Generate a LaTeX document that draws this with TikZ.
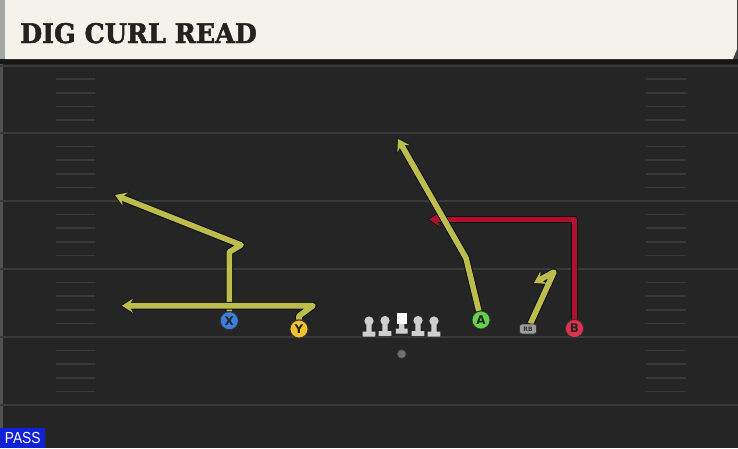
\documentclass[tikz,border=0pt]{standalone}
\usepackage{fontspec}
\setmainfont{DejaVu Sans}
\newfontfamily\titlefont{DejaVu Serif}[BoldFeatures={FakeStretch=0.94,FakeBold=1.8}]
\newfontfamily\passfont{Liberation Sans}[FakeStretch=0.86]
\usetikzlibrary{arrows.meta}
\definecolor{fieldbg}{HTML}{252525}
\definecolor{bandc}{HTML}{161616}
\definecolor{linec}{HTML}{393939}
\definecolor{creamc}{HTML}{F5F2EA}
\definecolor{stripc}{HTML}{A4A7A4}
\definecolor{titlec}{HTML}{222222}
\definecolor{routey}{HTML}{BDBD4E}
\definecolor{router}{HTML}{B0102E}
\definecolor{outc}{HTML}{111111}
\definecolor{passblue}{HTML}{0F22D8}
\definecolor{xblue}{HTML}{3D7FDC}
\definecolor{yyellow}{HTML}{F2C12E}
\definecolor{agreen}{HTML}{66D04A}
\definecolor{bred}{HTML}{E0324A}
\definecolor{rbgray}{HTML}{9C9C9C}
\definecolor{lmgray}{HTML}{CFCFCF}
\definecolor{qbgray}{HTML}{707070}
\pgfdeclarelayer{field}
\pgfdeclarelayer{routes}
\pgfsetlayers{field,routes,main}
\tikzset{
  yardline/.style={draw=linec, line width=2pt},
  hashmark/.style={draw=linec, line width=1.6pt},
  player/.style={circle, draw=black!80, line width=0.8pt, minimum size=18pt, inner sep=0pt,
    font=\bfseries\fontsize{12}{12}\selectfont, text=black!85},
  route/.style={draw=#1, line width=5.6pt, line join=round,
    -{Stealth[length=11pt,width=14pt,inset=4pt,fill=#1]},
    preaction={draw=outc, line width=7.6pt, line join=round,
      -{Stealth[length=13pt,width=17pt,inset=4.7pt]}, shorten >=-1.2pt}},
  lineman/.pic={
    \path[draw=black!85, line width=1.6pt] (-6.3,0) rectangle (6.3,-5) (-2.7,-4) rectangle (2.7,-13) (0,-15.5) circle (4.6);
    \path[fill=lmgray] (-6.3,0) rectangle (6.3,-5) (-2.7,-4) rectangle (2.7,-13) (0,-15.5) circle (4.6);
  },
  centerman/.pic={
    \path[draw=black!85, line width=1.6pt] (-5.8,0) rectangle (5.8,-5) (-2.7,-4) rectangle (2.7,-11) (-4.8,-10) rectangle (4.8,-20.5);
    \path[fill=lmgray] (-5.8,0) rectangle (5.8,-5) (-2.7,-4) rectangle (2.7,-11);
    \path[fill=white] (-4.8,-10) rectangle (4.8,-20.5);
  }
}
\begin{document}
\begin{tikzpicture}[x=1pt,y=-1pt]
\useasboundingbox (0,0) rectangle (738,448);
\begin{pgfonlayer}{field}
  \fill[fieldbg] (0,0) rectangle (738,448);
  \fill[bandc] (0,58) rectangle (738,64);
  \fill[black!75] (733,59) -- (737,49) -- (738,49) -- (738,59) -- cycle;
  \fill[creamc] (5,0) -- (737,0) -- (737,49) -- (733,59) -- (5,59) -- cycle;
  \fill[stripc] (0,0) rectangle (5,59);
  \fill[fieldbg!80!white] (0,64) rectangle (2.5,448);
  \foreach \yy in {65.5,133,201,269,337,405} {
    \draw[yardline] (0,\yy) -- (738,\yy);
  }
  \foreach \yy in {65.5,133,201,269,337} {
    \foreach \k in {1,2,3,4} {
      \draw[hashmark] (56,\yy+13.6*\k) -- (95,\yy+13.6*\k);
      \draw[hashmark] (646,\yy+13.6*\k) -- (686,\yy+13.6*\k);
    }
  }
\end{pgfonlayer}

\node[anchor=base west, inner sep=0pt, text=titlec,
  font=\titlefont\bfseries\fontsize{27}{27}\selectfont] (title) at (20,43) {DIG CURL READ};
\node[anchor=south west, fill=passblue, text=white, inner sep=0pt, minimum width=45pt, minimum height=20pt,
  font=\passfont\fontsize{16}{16}\selectfont] (pass) at (0,448) {PASS};

% players
\node[player, fill=xblue] (X) at (229.3,320.7) {X};
\node[player, fill=yyellow] (Y) at (299,329) {Y};
\node[player, fill=agreen] (A) at (481,320) {A};
\node[player, fill=bred] (B) at (574.5,328.5) {B};
\node[draw=black!80, line width=0.8pt, fill=rbgray, rounded corners=2.5pt, minimum width=17pt, minimum height=10pt,
  inner sep=0pt, font=\bfseries\fontsize{6}{6}\selectfont, text=black!80] (RB) at (528,329) {RB};
\node[circle, fill=qbgray, draw=black!70, line width=0.6pt, minimum size=8.5pt, inner sep=0pt] (QB) at (401.7,354) {};

% offensive line
\pic at (369,336.5) {lineman};
\pic at (385,336) {lineman};
\pic at (401.7,333.5) {centerman};
\pic at (418,336) {lineman};
\pic at (434,336.5) {lineman};

% route points
\coordinate (x1) at (229.3,252);
\coordinate (x2) at (241,245);
\coordinate (x3) at (115,195);
\coordinate (y1) at (299,316);
\coordinate (y2) at (313,305.7);
\coordinate (y3) at (122,305.7);
\coordinate (a1) at (466,258);
\coordinate (a2) at (398,139);
\coordinate (r1) at (554,272);
\coordinate (r2) at (534,283);
\coordinate (b1) at (574.5,219.5);
\coordinate (b2) at (429,219.5);

\begin{pgfonlayer}{routes}
  \draw[route=router] (B) -- (b1) -- (b2);
  \draw[route=routey] (X) -- (x1) -- (x2) -- (x3);
  \draw[route=routey] (Y) -- (y1) -- (y2) -- (y3);
  \draw[route=routey] (A) -- (a1) -- (a2);
  \draw[route=routey] (RB) -- (r1) -- (r2);
\end{pgfonlayer}
\end{tikzpicture}
\end{document}
